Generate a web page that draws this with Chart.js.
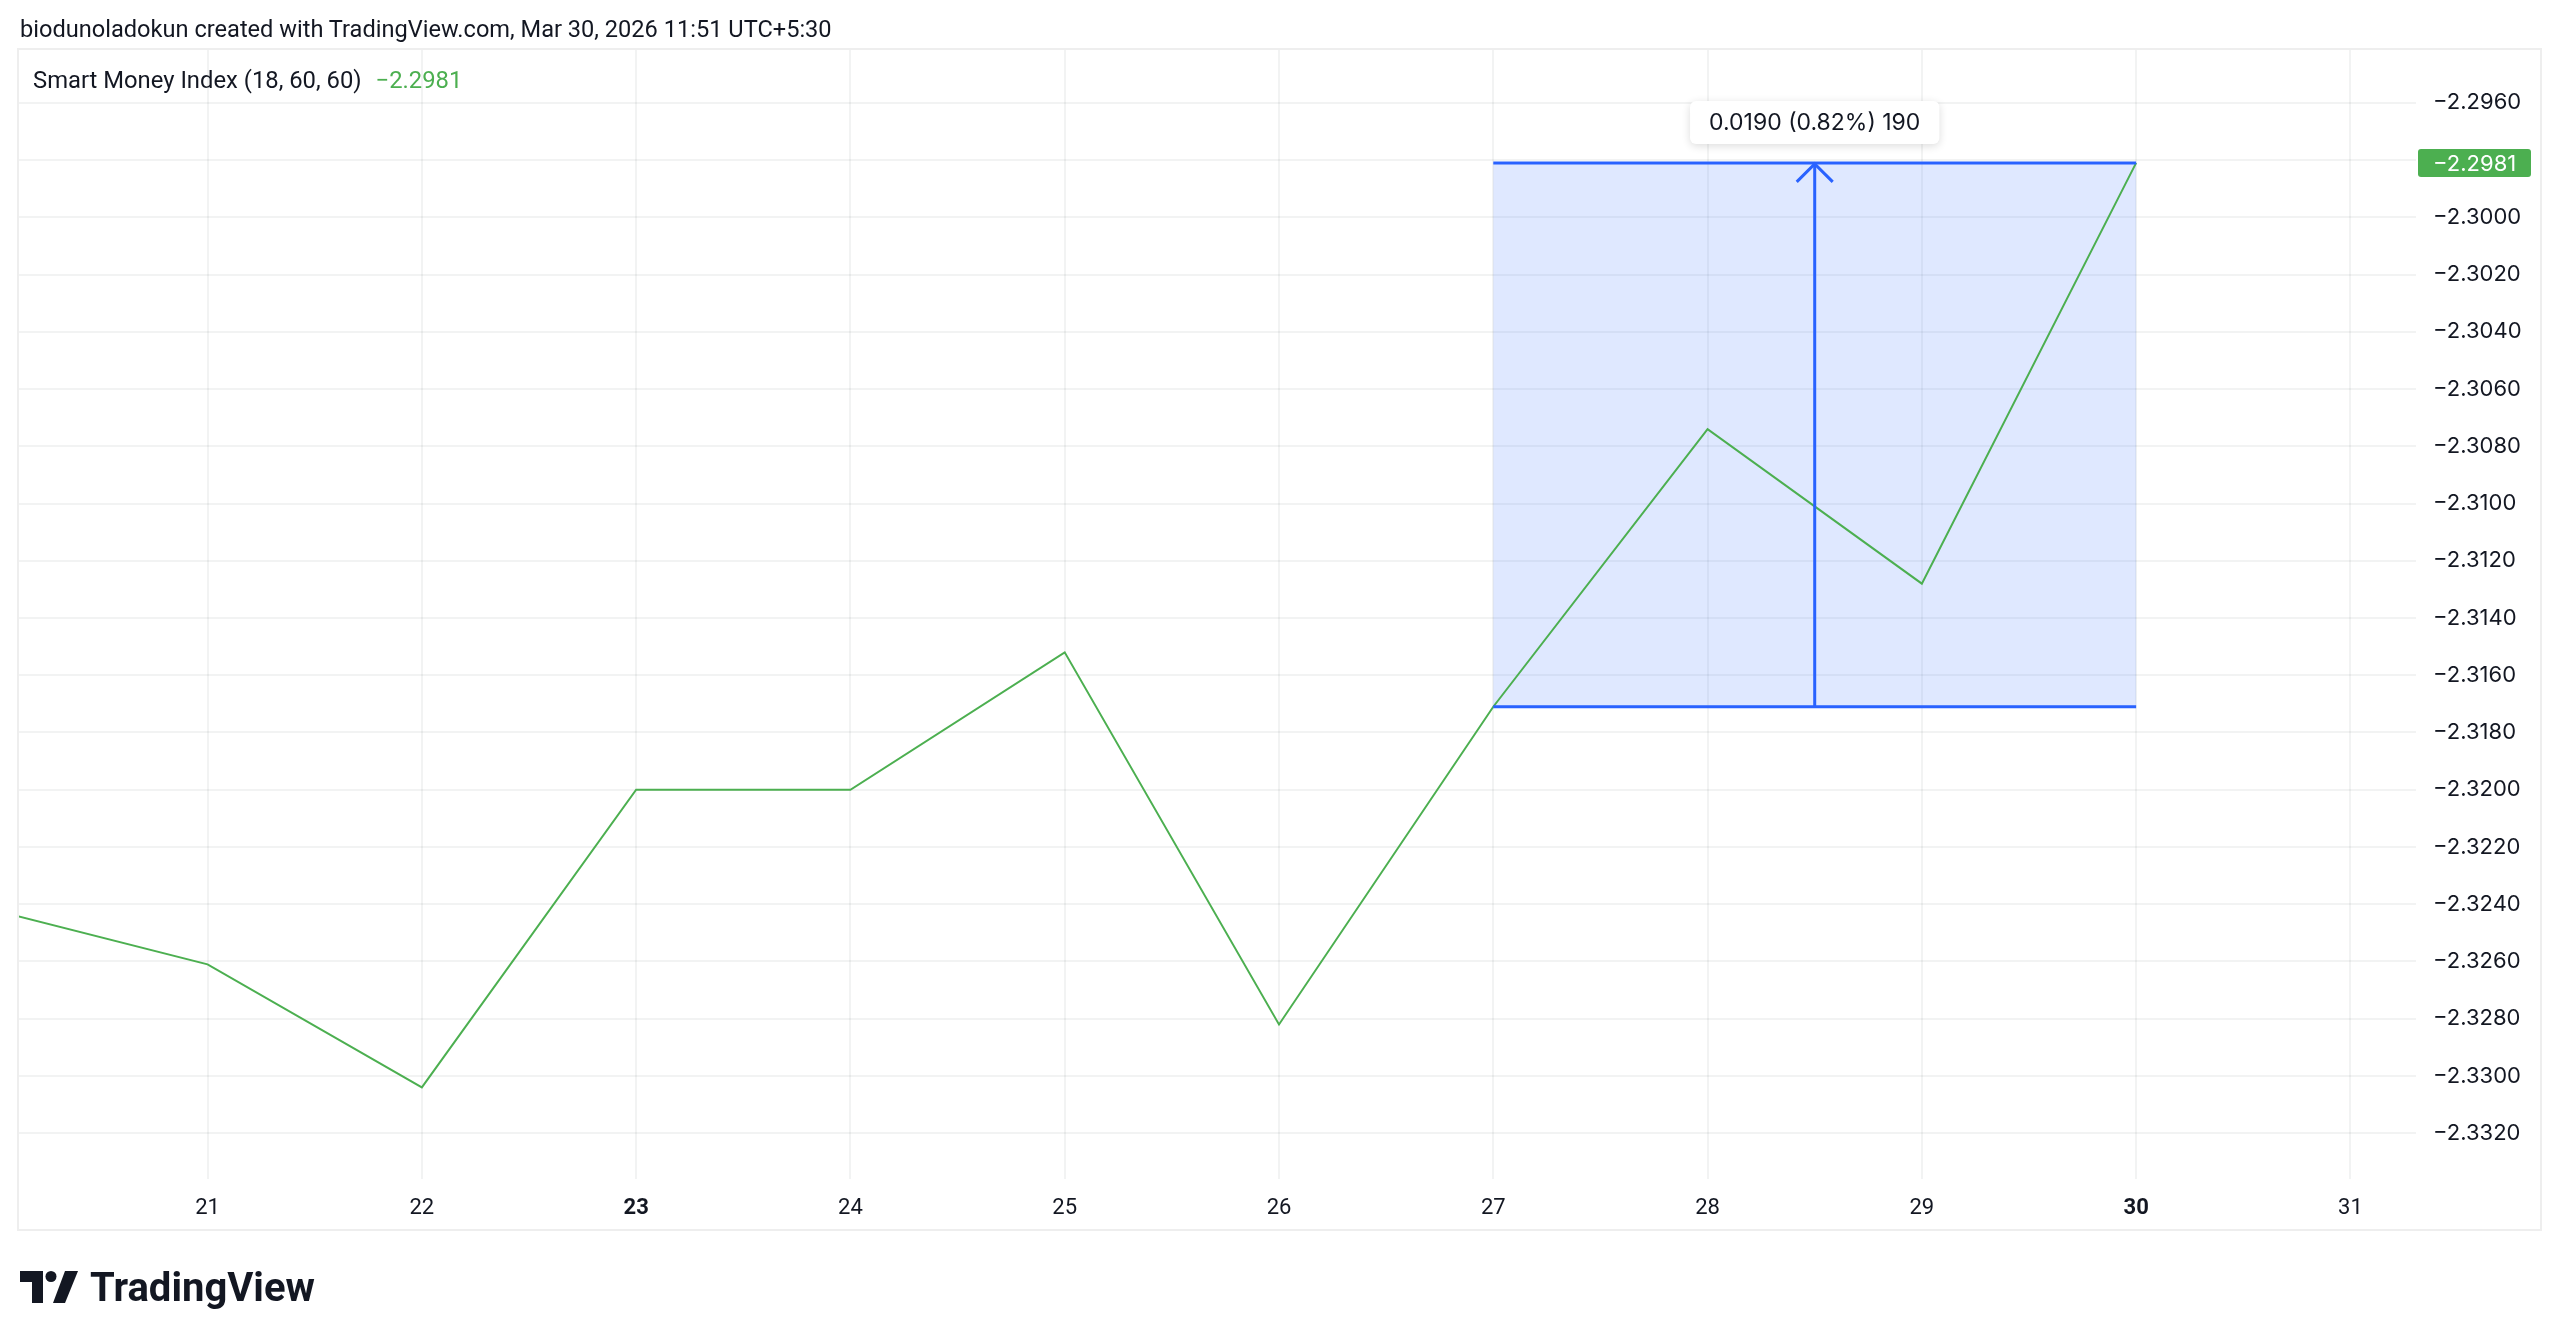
<!DOCTYPE html>
<html>
<head>
<meta charset="utf-8">
<title>Smart Money Index</title>
<script src="https://cdn.jsdelivr.net/npm/chart.js@4.4.1/dist/chart.umd.min.js"></script>
<style>
  html, body { margin: 0; padding: 0; background: #ffffff; }
  body {
    width: 2560px; height: 1342px; position: relative; overflow: hidden;
    font-family: Roboto, "Noto Sans", sans-serif; color: #131722;
  }
  #chart { position: absolute; left: 0; top: 0; }
  .header { position: absolute; left: 20px; top: 15px; font-size: 23.6px; white-space: nowrap; }
  .legend { position: absolute; left: 33px; top: 66px; font-size: 23.8px; white-space: nowrap; }
  .legend .val { color: #4caf50; margin-left: 14px; }
  .logo { position: absolute; left: 20px; top: 1266px; height: 42px; display: flex; align-items: center; }
  .logo svg { margin-right: 12px; }
  .logo span { font-size: 40px; font-weight: 700; letter-spacing: 0px; color: #131722; }
</style>
</head>
<body>
<canvas id="chart" width="2560" height="1342"></canvas>
<div class="header">biodunoladokun created with TradingView.com, Mar 30, 2026 11:51 UTC+5:30</div>
<div class="legend">Smart Money Index (18, 60, 60)<span class="val">−2.2981</span></div>
<div class="logo">
  <svg width="58" height="32" viewBox="0 0 58 32">
    <path d="M0 0 H23 V32 H12 V11 H0 Z" fill="#131722"/>
    <circle cx="31" cy="5.5" r="5.5" fill="#131722"/>
    <polygon points="45,0 58,0 45,32 33,32" fill="#131722"/>
  </svg>
  <span>TradingView</span>
</div>
<script>
// daily values, Mar 20 .. Mar 30
const days = [20, 21, 22, 23, 24, 25, 26, 27, 28, 29, 30];
const smiValues = [-2.3242, -2.3261, -2.3304, -2.3200, -2.3200, -2.3152, -2.3282, -2.3171, -2.3074, -2.3128, -2.2981];

const xTicks = [21, 22, 23, 24, 25, 26, 27, 28, 29, 30, 31];
const boldDays = [23, 30];
const yTicks = [-2.3320, -2.3300, -2.3280, -2.3260, -2.3240, -2.3220, -2.3200, -2.3180, -2.3160,
  -2.3140, -2.3120, -2.3100, -2.3080, -2.3060, -2.3040, -2.3020, -2.3000, -2.2980, -2.2960];
const hiddenYTicks = [-2.2980]; // covered by the last-value label

// price range measurement drawn on the chart
const measureFrom = 27;
const measureTo = 30;

const GREEN = '#4caf50';
const BLUE = '#2962ff';
const GRID = 'rgba(42, 46, 57, 0.06)';
const TEXT = '#131722';
const FONT = 'Roboto, "Noto Sans", sans-serif';
const NUM_FONT = 'Inter, Roboto, sans-serif';

const fmt = v => (v < 0 ? '\u2212' : '') + Math.abs(v).toFixed(4);
const valueAt = d => smiValues[days.indexOf(d)];

const measurePlugin = {
  id: 'measure',
  beforeDatasetsDraw(chart) {
    const { ctx, scales: { x, y } } = chart;
    const x0 = x.getPixelForValue(measureFrom);
    const x1 = x.getPixelForValue(measureTo);
    const yA = y.getPixelForValue(valueAt(measureFrom));
    const yB = y.getPixelForValue(valueAt(measureTo));
    ctx.save();
    ctx.fillStyle = 'rgba(41, 98, 255, 0.15)';
    ctx.fillRect(x0, Math.min(yA, yB), x1 - x0, Math.abs(yA - yB));
    ctx.restore();
  },
  afterDatasetsDraw(chart) {
    const { ctx, scales: { x, y } } = chart;
    const startVal = valueAt(measureFrom);
    const endVal = valueAt(measureTo);
    const x0 = x.getPixelForValue(measureFrom);
    const x1 = x.getPixelForValue(measureTo);
    const xm = x.getPixelForValue((measureFrom + measureTo) / 2);
    const yA = y.getPixelForValue(startVal);
    const yB = y.getPixelForValue(endVal);

    ctx.save();
    ctx.strokeStyle = BLUE;
    ctx.lineWidth = 3;
    ctx.beginPath();
    ctx.moveTo(x0, yA); ctx.lineTo(x1, yA);
    ctx.moveTo(x0, yB); ctx.lineTo(x1, yB);
    ctx.moveTo(xm, yA); ctx.lineTo(xm, yB + 2);
    ctx.stroke();
    // arrow head
    ctx.beginPath();
    ctx.moveTo(xm - 18, yB + 19);
    ctx.lineTo(xm, yB + 1);
    ctx.lineTo(xm + 18, yB + 19);
    ctx.stroke();

    // label box
    const diff = endVal - startVal;
    const pct = diff / Math.abs(startVal) * 100;
    const ticks = Math.round(diff / 0.0001);
    const label = diff.toFixed(4) + ' (' + pct.toFixed(2) + '%) ' + ticks;
    ctx.font = '23px ' + NUM_FONT;
    const w = ctx.measureText(label).width + 38;
    const h = 43;
    const bx = xm - w / 2;
    const by = yB - 19 - h;
    ctx.shadowColor = 'rgba(0, 0, 0, 0.14)';
    ctx.shadowBlur = 8;
    ctx.shadowOffsetY = 2;
    ctx.fillStyle = '#ffffff';
    ctx.beginPath();
    ctx.roundRect(bx, by, w, h, 6);
    ctx.fill();
    ctx.shadowColor = 'transparent';
    ctx.fillStyle = TEXT;
    ctx.textAlign = 'center';
    ctx.textBaseline = 'middle';
    ctx.fillText(label, xm, by + h / 2 + 1);
    ctx.restore();
  },
  afterDraw(chart) {
    const { ctx, chartArea, scales: { y } } = chart;
    // last value label on the price axis
    const last = smiValues[smiValues.length - 1];
    const ly = y.getPixelForValue(last);
    ctx.save();
    ctx.fillStyle = GREEN;
    ctx.beginPath();
    ctx.roundRect(chartArea.right + 2, ly - 14, 113, 28, 3);
    ctx.fill();
    ctx.fillStyle = '#ffffff';
    ctx.font = '22px ' + NUM_FONT;
    ctx.textBaseline = 'middle';
    ctx.textAlign = 'left';
    ctx.fillText(fmt(last), chartArea.right + 17, ly + 1);
    // outer frame
    ctx.strokeStyle = '#eeeeee';
    ctx.lineWidth = 2;
    ctx.strokeRect(chartArea.left - 1, chartArea.top, y.right - chartArea.left + 1, 1230 - chartArea.top);
    ctx.restore();
  }
};

new Chart(document.getElementById('chart'), {
  type: 'line',
  data: {
    datasets: [{
      label: 'Smart Money Index (18, 60, 60)',
      data: days.map((d, i) => ({ x: d, y: smiValues[i] })),
      borderColor: GREEN,
      borderWidth: 2,
      pointRadius: 0,
      tension: 0,
      fill: false
    }]
  },
  options: {
    responsive: false,
    devicePixelRatio: 1,
    animation: false,
    layout: { padding: { left: 19, top: 49, right: 19, bottom: 112 } },
    plugins: { legend: { display: false }, tooltip: { enabled: false } },
    scales: {
      x: {
        type: 'linear',
        min: 20.12,
        max: 31.306,
        afterBuildTicks: axis => { axis.ticks = xTicks.map(v => ({ value: v })); },
        afterFit: axis => { axis.height = 51; },
        grid: { color: GRID, lineWidth: 2, drawTicks: false },
        border: { display: false },
        ticks: {
          padding: 16,
          color: TEXT,
          maxRotation: 0,
          autoSkip: false,
          font: ctx => ({ family: FONT, size: 22, weight: boldDays.includes(ctx.tick && ctx.tick.value) ? 'bold' : 'normal' }),
          callback: v => String(v)
        }
      },
      y: {
        position: 'right',
        min: -2.3336,
        max: -2.29412,
        afterBuildTicks: axis => { axis.ticks = yTicks.map(v => ({ value: v })); },
        afterFit: axis => { axis.width = 125; },
        grid: { color: GRID, lineWidth: 2, drawTicks: false },
        border: { display: false },
        ticks: {
          padding: 17,
          color: TEXT,
          autoSkip: false,
          font: { family: NUM_FONT, size: 22 },
          callback: v => hiddenYTicks.some(h => Math.abs(h - v) < 1e-7) ? '' : fmt(v)
        }
      }
    }
  },
  plugins: [measurePlugin]
});
</script>
</body>
</html>
